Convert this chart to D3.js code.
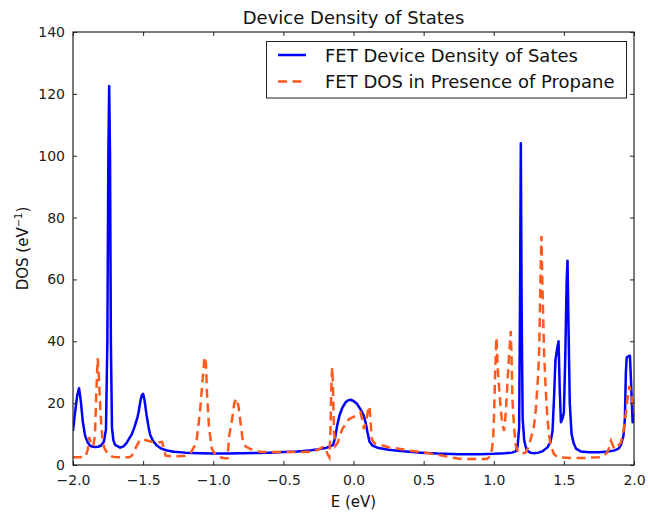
<!DOCTYPE html>
<html>
<head>
<meta charset="utf-8">
<script src="https://cdn.jsdelivr.net/npm/d3@7"></script>
<style>
  html, body { margin: 0; padding: 0; background: #fff; }
  svg { display: block; font-family: "DejaVu Sans", sans-serif; }
</style>
</head>
<body>
<svg id="chart" width="648" height="514"></svg>
<script>
// ---------- DATA ----------
const xTicks = [-2.0, -1.5, -1.0, -0.5, 0.0, 0.5, 1.0, 1.5, 2.0];
const yTicks = [0, 20, 40, 60, 80, 100, 120, 140];
const seriesNames = ["FET Device Density of Sates", "FET DOS in Presence of Propane"];

const deviceE = [-2.000,-1.985,-1.970,-1.957,-1.945,-1.930,-1.914,-1.895,-1.879,-1.860,-1.840,-1.820,-1.800,-1.780,-1.765,-1.755,-1.748,-1.742,-1.736,-1.730,-1.722,-1.712,-1.700,-1.680,-1.664,-1.640,-1.620,-1.600,-1.580,-1.560,-1.540,-1.533,-1.520,-1.510,-1.500,-1.490,-1.475,-1.460,-1.450,-1.430,-1.400,-1.370,-1.330,-1.280,-1.200,-1.100,-1.000,-0.900,-0.800,-0.700,-0.600,-0.500,-0.400,-0.300,-0.250,-0.200,-0.170,-0.145,-0.130,-0.117,-0.100,-0.080,-0.057,-0.040,-0.021,0.000,0.026,0.050,0.074,0.090,0.100,0.114,0.135,0.170,0.250,0.336,0.480,0.600,0.750,0.900,1.000,1.080,1.130,1.157,1.170,1.181,1.187,1.193,1.199,1.206,1.217,1.230,1.240,1.260,1.288,1.320,1.350,1.383,1.405,1.419,1.430,1.440,1.450,1.462,1.470,1.479,1.490,1.500,1.510,1.520,1.526,1.533,1.542,1.555,1.570,1.586,1.620,1.680,1.750,1.820,1.860,1.890,1.907,1.925,1.935,1.942,1.948,1.960,1.971,1.978,1.984,1.990,1.995,2.000];
const deviceDOS = [11.0,17.0,22.5,24.8,21.0,14.0,9.5,7.3,6.3,5.9,5.8,5.9,6.3,7.5,11.5,40,100,122.5,100,40,12,8,6.5,6.0,5.6,6.0,7.0,8.5,10,12.5,15.5,17,20.5,22.5,23,21,16,12,9.8,7.8,6.2,5.3,4.7,4.3,4.0,3.8,3.7,3.7,3.8,3.9,4.0,4.2,4.4,4.8,5.1,5.5,5.9,6.5,9,12.7,16,18.5,20.2,20.9,21.1,20.7,19.7,18,15.9,13,10.5,7.5,6.3,5.6,4.9,4.5,4.0,3.7,3.5,3.5,3.6,3.8,4.0,4.4,6,12,50,104,50,15,8,5.5,4.6,4.0,3.8,4.0,4.5,5.7,7.5,11,22,34,37,40,25,13.8,15,17,35,60,66,45,20,10,7,5.3,4.4,4.1,4.1,4.4,4.7,5.3,6.5,9.5,15,30,34.7,35.2,35.3,28,21,13.8,15,17];

const propaneE = [-2.000,-1.950,-1.910,-1.895,-1.886,-1.870,-1.855,-1.843,-1.835,-1.824,-1.815,-1.807,-1.800,-1.793,-1.780,-1.771,-1.750,-1.720,-1.690,-1.600,-1.580,-1.560,-1.530,-1.510,-1.480,-1.440,-1.400,-1.380,-1.365,-1.350,-1.340,-1.300,-1.250,-1.200,-1.160,-1.135,-1.117,-1.093,-1.075,-1.062,-1.052,-1.045,-1.030,-1.010,-0.980,-0.950,-0.920,-0.898,-0.886,-0.865,-0.850,-0.836,-0.820,-0.800,-0.790,-0.770,-0.736,-0.700,-0.650,-0.520,-0.400,-0.300,-0.250,-0.220,-0.200,-0.185,-0.172,-0.165,-0.158,-0.152,-0.146,-0.140,-0.130,-0.115,-0.100,-0.080,-0.050,-0.033,0.014,0.050,0.063,0.074,0.090,0.105,0.114,0.122,0.130,0.150,0.180,0.217,0.260,0.336,0.400,0.480,0.560,0.640,0.700,0.760,0.850,0.950,0.980,0.995,1.002,1.010,1.019,1.030,1.050,1.062,1.074,1.086,1.098,1.110,1.121,1.127,1.133,1.145,1.157,1.175,1.193,1.229,1.250,1.264,1.285,1.300,1.315,1.324,1.333,1.340,1.347,1.359,1.371,1.383,1.395,1.407,1.430,1.455,1.550,1.650,1.750,1.788,1.815,1.836,1.848,1.860,1.880,1.907,1.925,1.943,1.955,1.967,1.980,1.990,2.000];
const propaneDOS = [2.5,2.5,2.7,5,9,7,6,10,22,34.5,28,20,14,10,6,5,3.5,2.7,2.5,2.5,3,5,7.5,8.4,8,7.5,7.2,7.4,7.5,5,3,2.8,2.8,3,4,6,8.4,18,28,35,33,23.5,12,5.2,3,2.5,2.2,2.2,9.5,15,20,21.5,19,11.6,8,6,5.2,4.5,4.2,4.2,4.2,4.3,5,5.8,5.5,3.5,2.5,10,25,31.5,25,11.6,6.2,7,9,11.6,13.5,14.8,15.9,17,14.5,11.6,14,18,19,14,8.4,7,6.5,6.2,5.6,5.2,4.6,4.2,3.6,3.0,2.4,2.0,1.9,1.9,3,8,15.9,30,41.2,30,18,13,11,17,26.7,36,43.3,35,21.3,12,6.2,4.2,3.5,4.1,6,8.4,12,18,28,37,60,74,57.8,36,24,14.8,9.5,6.2,3.5,2.5,2.3,2.3,2.5,3,4.5,7.8,6.5,5.2,5.8,7.3,11,17,22,25.6,23,20.2,17];

// ---------- LAYOUT ----------
const svg = d3.select("#chart");
const M = {left: 73, right: 634, top: 32, bottom: 465};
const x = d3.scaleLinear().domain([-2, 2]).range([M.left, M.right]);
const y = d3.scaleLinear().domain([0, 140]).range([M.bottom, M.top]);

const blue = "#0000ff";
const orange = "#ff5a1e";

const fmtX = v => (v < 0 ? "\u2212" : "") + Math.abs(v).toFixed(1);
const fmtY = v => String(v);

svg.append("clipPath").attr("id", "clip")
  .append("rect").attr("x", M.left).attr("y", M.top)
  .attr("width", M.right - M.left).attr("height", M.bottom - M.top);

const line = d3.line().x(d => x(d[0])).y(d => y(d[1]));

const devData = deviceE.map((e, i) => [e, deviceDOS[i]]);
const proData = propaneE.map((e, i) => [e, propaneDOS[i]]);

const g = svg.append("g").attr("clip-path", "url(#clip)");
g.append("path").datum(devData).attr("d", line)
  .attr("fill", "none").attr("stroke", blue).attr("stroke-width", 2.5)
  .attr("stroke-linejoin", "round");
g.append("path").datum(proData).attr("d", line)
  .attr("fill", "none").attr("stroke", orange).attr("stroke-width", 2.5)
  .attr("stroke-dasharray", "9,5.5");

// axes (ticks inside)
const tickLen = 4;
const axB = d3.axisBottom(x).tickValues(xTicks).tickFormat(fmtX).tickSizeInner(-tickLen).tickSizeOuter(0).tickPadding(10);
const axT = d3.axisTop(x).tickValues(xTicks).tickFormat("").tickSizeInner(-tickLen).tickSizeOuter(0);
const axL = d3.axisLeft(y).tickValues(yTicks).tickFormat(fmtY).tickSizeInner(-tickLen).tickSizeOuter(0).tickPadding(8);
const axR = d3.axisRight(y).tickValues(yTicks).tickFormat("").tickSizeInner(-tickLen).tickSizeOuter(0);

function style(sel) {
  sel.select(".domain").remove();
  sel.selectAll(".tick line").attr("stroke", "#222").attr("stroke-width", 1);
  sel.selectAll(".tick text").attr("fill", "#222").attr("font-size", 14).attr("font-family", "DejaVu Sans");
}
svg.append("g").attr("transform", `translate(0,${M.bottom})`).call(axB).call(style);
svg.append("g").attr("transform", `translate(0,${M.top})`).call(axT).call(style);
svg.append("g").attr("transform", `translate(${M.left},0)`).call(axL).call(style);
svg.append("g").attr("transform", `translate(${M.right},0)`).call(axR).call(style);

// frame
svg.append("rect").attr("x", M.left).attr("y", M.top)
  .attr("width", M.right - M.left).attr("height", M.bottom - M.top)
  .attr("fill", "none").attr("stroke", "#222").attr("stroke-width", 1.2);

// title & labels
svg.append("text").attr("x", (M.left + M.right) / 2).attr("y", 24)
  .attr("text-anchor", "middle").attr("font-size", 18).attr("fill", "#111")
  .text("Device Density of States");
svg.append("text").attr("x", (M.left + M.right) / 2).attr("y", 507)
  .attr("text-anchor", "middle").attr("font-size", 15).attr("fill", "#111")
  .text("E (eV)");
const yl = svg.append("text").attr("transform", `translate(28,${(M.top + M.bottom) / 2}) rotate(-90)`)
  .attr("text-anchor", "middle").attr("font-size", 15).attr("fill", "#111");
yl.append("tspan").text("DOS (eV");
yl.append("tspan").attr("font-size", 10).attr("dy", -6).text("\u22121");
yl.append("tspan").attr("dy", 6).text(")");

// legend
const lg = svg.append("g");
lg.append("rect").attr("x", 266.5).attr("y", 41.5).attr("width", 360).attr("height", 56.5)
  .attr("fill", "#fff").attr("stroke", "#222").attr("stroke-width", 1);
const rows = [
  {name: seriesNames[0], color: blue, dash: null, yy: 55},
  {name: seriesNames[1], color: orange, dash: "9,5.5", yy: 81.5}
];
rows.forEach(r => {
  lg.append("line").attr("x1", 278).attr("x2", 306).attr("y1", r.yy).attr("y2", r.yy)
    .attr("stroke", r.color).attr("stroke-width", 2.5)
    .attr("stroke-dasharray", r.dash);
  lg.append("text").attr("x", 325).attr("y", r.yy + 6.5).attr("font-size", 18)
    .attr("fill", "#111").text(r.name);
});
</script>
</body>
</html>
